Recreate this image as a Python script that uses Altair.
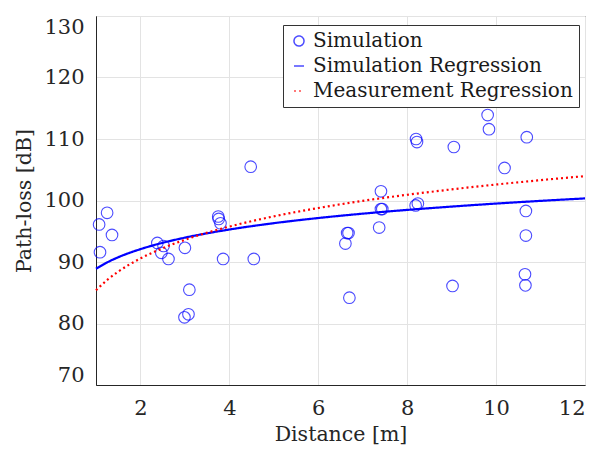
import altair as alt
import pandas as pd

# Simulation scatter points (distance [m], path-loss [dB])
sim_x = [1.07, 1.09, 1.25, 1.36, 2.38, 2.47, 2.52, 2.63, 3.00, 2.99, 3.08, 3.10,
         3.75, 3.76, 3.80, 3.86, 4.48, 4.55, 6.61, 6.65, 6.68, 6.70, 7.37, 7.41,
         7.41, 7.44, 8.19, 8.20, 8.22, 8.24, 9.02, 9.05, 9.81, 9.84, 10.19, 10.65,
         10.66, 10.67, 10.67, 10.69]
sim_y = [96.1, 91.6, 98.0, 94.4, 93.1, 91.5, 92.6, 90.5, 92.3, 81.0, 81.5, 85.5,
         97.4, 97.0, 96.3, 90.5, 105.5, 90.5, 93.0, 94.7, 94.7, 84.2, 95.6, 101.5,
         98.6, 98.6, 99.2, 110.0, 109.5, 99.5, 86.1, 108.7, 113.9, 111.6, 105.3, 88.0,
         86.2, 98.3, 94.3, 110.3]

# Regression curves
reg_x = [1, 1.25, 1.5, 2, 2.5, 3, 4, 5, 6, 7, 8, 9, 10, 11, 12]
simreg_y = [88.9, 89.93, 90.77, 92.09, 93.12, 93.96, 95.28, 96.31, 97.15, 97.86,
            98.47, 99.01, 99.5, 99.94, 100.34]
measreg_y = [85.4, 87.07, 88.43, 90.58, 92.24, 93.61, 95.76, 97.42, 98.78, 99.94,
             100.93, 101.81, 102.6, 103.31, 103.96]

series = ["Simulation", "Simulation Regression", "Measurement Regression"]

pts = pd.DataFrame({"x": sim_x, "y": sim_y, "series": series[0]})
lines = pd.concat([
    pd.DataFrame({"x": reg_x, "y": simreg_y, "series": series[1]}),
    pd.DataFrame({"x": reg_x, "y": measreg_y, "series": series[2]}),
])

FONT = "DejaVu Serif"

xs = alt.Scale(domain=[1, 12], nice=False, zero=False)
ys = alt.Scale(domain=[70, 130], nice=False, zero=False)
xax = alt.Axis(title="Distance [m]", values=[2, 4, 6, 8, 10, 12], grid=True)
yax = alt.Axis(title="Path-loss [dB]", values=[70, 80, 90, 100, 110, 120, 130], grid=True,
               labelFlush=6)

leg = alt.Legend(title=None, orient="none", legendX=187, legendY=9)
color = alt.Color("series:N", scale=alt.Scale(domain=series, range=["#0000ff", "#0000ff", "#ff0000"]),
                  legend=leg)
shape = alt.Shape("series:N", scale=alt.Scale(domain=series, range=["circle", "stroke", "stroke"]),
                  legend=leg)
dash = alt.StrokeDash("series:N", scale=alt.Scale(domain=series, range=[[1, 0], [1, 0], [2, 3]]),
                      legend=leg)

point_layer = alt.Chart(pts).mark_point(filled=False, size=135, strokeWidth=1.1).encode(
    x=alt.X("x:Q", scale=xs, axis=xax),
    y=alt.Y("y:Q", scale=ys, axis=yax),
    color=color,
    shape=shape,
)

line_layer = alt.Chart(lines).mark_line(strokeWidth=2.2, interpolate="monotone").encode(
    x=alt.X("x:Q", scale=xs, axis=xax),
    y=alt.Y("y:Q", scale=ys, axis=yax),
    color=color,
    strokeDash=dash,
    detail="series:N",
)

chart = alt.layer(point_layer, line_layer).properties(
    width=489, height=369,
    autosize=alt.AutoSizeParams(type="none"),
    padding={"left": 88, "top": 8, "right": 12, "bottom": 63},
).configure(
    font=FONT
).configure_view(
    stroke="#262626", strokeWidth=1
).configure_axis(
    labelFont=FONT, titleFont=FONT, labelFontSize=21, titleFontSize=20.5,
    labelColor="#262626", titleColor="#262626", titleFontWeight="normal",
    gridColor="#e3e3e3", gridWidth=1, domainColor="#262626", domainWidth=1,
    ticks=False, labelPadding=12,
).configure_axisX(
    titlePadding=6
).configure_axisY(
    titlePadding=9
).configure_legend(
    labelFont=FONT, labelFontSize=20, labelColor="#1a1a1a", labelLimit=500,
    strokeColor="#333333", fillColor="white", padding=6,
    rowPadding=5, symbolSize=100, symbolStrokeWidth=1.5, labelOffset=4,
    cornerRadius=0,
)

chart.save("out.html", embed_options={"renderer": "svg", "actions": False})
